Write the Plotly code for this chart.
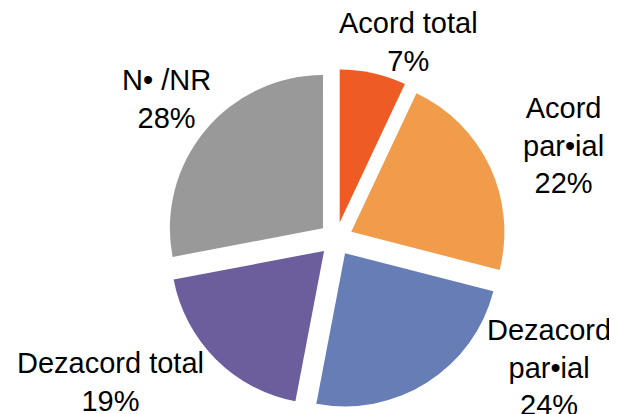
import plotly.graph_objects as go

labels = ["Acord total", "Acord par•ial", "Dezacord par•ial", "Dezacord total", "N• /NR"]
label_lines = ["Acord total", "Acord<br>par•ial", "Dezacord<br>par•ial", "Dezacord total", "N• /NR"]
values = [7, 22, 24, 19, 28]
colors = ["#EF5B25", "#F09C4A", "#667EB5", "#6C5E9D", "#999999"]

W, H = 617, 414
OFF = 8  # page body margin in the browser


def px_x(x):
    return (x - OFF) / W


def px_y(y):
    return 1 - (y - OFF) / H


fig = go.Figure(go.Pie(
    labels=labels,
    values=values,
    sort=False,
    direction="clockwise",
    rotation=0,
    pull=[0.11] * len(values),
    marker=dict(colors=colors, line=dict(width=0)),
    textinfo="none",
    hoverinfo="label+percent",
    showlegend=False,
    domain=dict(x=[px_x(166), px_x(506)], y=[px_y(409), px_y(69)]),
))

# label placement (pixel centers of each text block)
label_pos = [(408, 42), (563, 145), (549, 367), (110, 382), (166, 99)]
for lines, v, (lx, ly) in zip(label_lines, values, label_pos):
    fig.add_annotation(
        x=px_x(lx), y=px_y(ly), xref="paper", yref="paper",
        text=f"{lines}<br>{v}%", showarrow=False,
        xanchor="center", yanchor="middle", align="center",
        font=dict(family="Liberation Sans, Arial", size=29, color="#000000"),
    )

fig.update_layout(
    width=W, height=H,
    margin=dict(l=0, r=0, t=0, b=0),
    paper_bgcolor="white", plot_bgcolor="white",
)

fig.write_html("out.html")
